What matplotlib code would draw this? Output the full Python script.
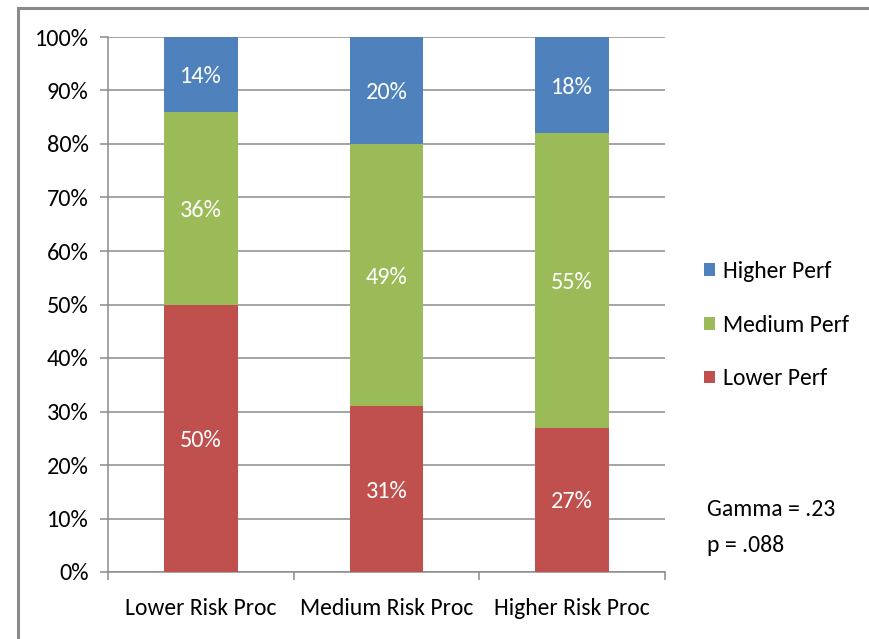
import matplotlib.pyplot as plt
from matplotlib.patches import Rectangle

categories = ["Lower Risk Proc", "Medium Risk Proc", "Higher Risk Proc"]
lower_perf = [50, 31, 27]
medium_perf = [36, 49, 55]
higher_perf = [14, 20, 18]
series_names = ["Lower Perf", "Medium Perf", "Higher Perf"]
colors = ["#C0504D", "#9BBB59", "#4F81BD"]
yticks = [0, 10, 20, 30, 40, 50, 60, 70, 80, 90, 100]

plt.rcParams['font.family'] = ['Carlito', 'DejaVu Sans']
FS = 17

fig = plt.figure(figsize=(8.69, 6.39), dpi=100)
ax = fig.add_axes([108 / 869, 1 - 572 / 639, 557 / 869, 535 / 639])

# gray chart-area border (only top and left edges are visible)
fig.patches.append(Rectangle((18 / 869, -0.1), 1.2, (635 - 4) / 639 + 0.1,
                             transform=fig.transFigure, fill=False,
                             edgecolor="#8a8a8a", linewidth=2.2))

x = range(len(categories))
bottom = [0] * len(categories)
handles = []
for vals, name, col in zip([lower_perf, medium_perf, higher_perf], series_names, colors):
    bars = ax.bar(x, vals, width=0.395, bottom=bottom, color=col, label=name, zorder=3)
    handles.append(bars)
    for xi, v, b in zip(x, vals, bottom):
        ax.text(xi, b + v / 2, f"{v}%", ha="center", va="center_baseline",
                color="white", fontsize=FS + 0.5, zorder=4)
    bottom = [b + v for b, v in zip(bottom, vals)]

ax.set_xlim(-0.5, 2.5)
ax.set_ylim(0, 100)
ax.set_yticks(yticks)
ax.set_yticklabels([f"{t}%" for t in yticks], fontsize=FS + 0.5)
ax.yaxis.grid(True, color="#8c8c8c", linewidth=1.1, zorder=0)

ax.set_xticks([0, 1, 2])
ax.set_xticklabels(categories, fontsize=FS)
ax.set_xticks([-0.5, 0.5, 1.5, 2.5], minor=True)
ax.tick_params(axis="x", which="major", length=0, pad=19)
ax.tick_params(axis="x", which="minor", length=6, color="#8c8c8c", width=1.1)
ax.tick_params(axis="y", length=6, color="#8c8c8c", width=1.1, pad=8)

for side in ["top", "right"]:
    ax.spines[side].set_visible(False)
for side in ["left", "bottom"]:
    ax.spines[side].set_color("#8c8c8c")
    ax.spines[side].set_linewidth(1.1)

leg = fig.legend(handles[::-1], series_names[::-1], loc="upper left",
                 bbox_to_anchor=(683 / 869, 1 - 240 / 639), frameon=False,
                 fontsize=FS, handlelength=0.45, handleheight=0.45,
                 handletextpad=0.35, labelspacing=1.38)

fig.text(707 / 869, 1 - 510 / 639, "Gamma = .23", fontsize=FS, va="center")
fig.text(707 / 869, 1 - 546 / 639, "p = .088", fontsize=FS, va="center")

fig.savefig("out.png", dpi=100)
